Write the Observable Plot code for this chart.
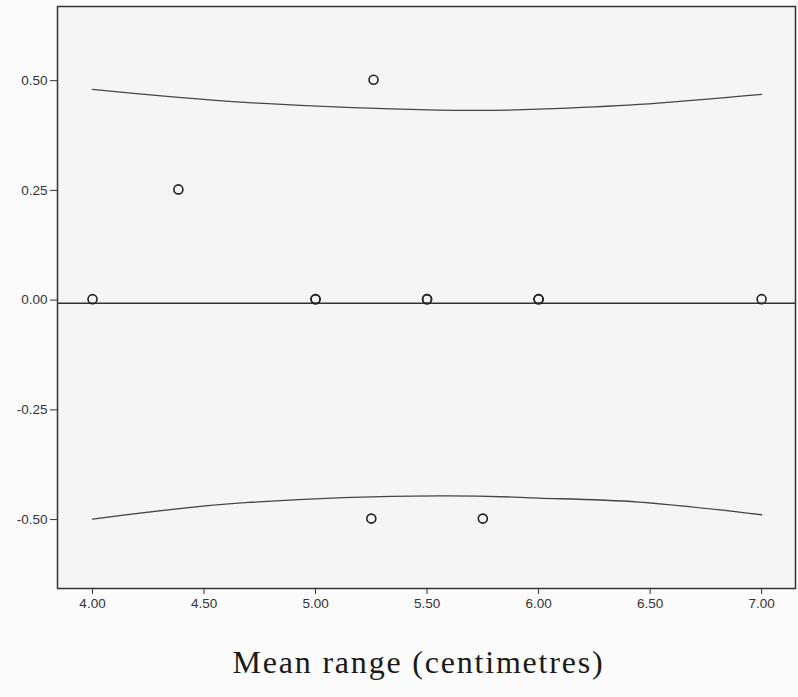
<!DOCTYPE html>
<html>
<head>
<meta charset="utf-8">
<script src="https://cdn.jsdelivr.net/npm/d3@7"></script>
<script src="https://cdn.jsdelivr.net/npm/@observablehq/plot@0.6"></script>
<style>
  html, body { margin: 0; padding: 0; background: #fbfbfb; }
  #chart svg { display: block; }
</style>
</head>
<body>
<div id="chart"></div>
<script>
// Observed points (mean range, difference)
const pointX = [4.00, 4.385, 5.00, 5.00, 5.26, 5.50, 5.50, 6.00, 6.00, 7.00, 5.25, 5.75];
const pointY = [0.00, 0.25, 0.00, 0.00, 0.50, 0.00, 0.00, 0.00, 0.00, 0.00, -0.50, -0.50];

// Mean difference line
const meanDiff = -0.007;

// Upper limit curve
const upperX = [4.00, 4.70, 5.55, 6.00, 6.45, 7.00];
const upperY = [0.480, 0.450, 0.433, 0.435, 0.446, 0.469];

// Lower limit curve
const lowerX = [4.00, 4.70, 5.55, 6.00, 6.45, 7.00];
const lowerY = [-0.499, -0.461, -0.446, -0.451, -0.460, -0.489];

const xTicks = [4.0, 4.5, 5.0, 5.5, 6.0, 6.5, 7.0];
const yTicks = [-0.5, -0.25, 0, 0.25, 0.5];
const xTitle = "Mean range (centimetres)";

const points = pointX.map((x, i) => ({x, y: pointY[i]}));
const upper = upperX.map((x, i) => ({x, y: upperY[i]}));
const lower = lowerX.map((x, i) => ({x, y: lowerY[i]}));

const fmt = d => d.toFixed(2);

const chart = Plot.plot({
  width: 798,
  height: 697,
  marginLeft: 57,
  marginRight: 3,
  marginTop: 6,
  marginBottom: 109,
  style: {background: "#fbfbfb", fontFamily: "Liberation Sans, Arial, sans-serif"},
  x: {domain: [3.843, 7.152], label: null},
  y: {domain: [-0.657, 0.669], label: null},
  marks: [
    Plot.frame({fill: "#f5f5f5", stroke: "none"}),
    Plot.ruleY([meanDiff], {stroke: "#333", strokeWidth: 1.4}),
    Plot.line(upper, {x: "x", y: "y", curve: "natural", stroke: "#444", strokeWidth: 1.3}),
    Plot.line(lower, {x: "x", y: "y", curve: "natural", stroke: "#444", strokeWidth: 1.3}),
    Plot.dot(points, {x: "x", y: "y", r: 4.5, stroke: "#222", strokeWidth: 1.6, fill: "none", dy: -1}),
    Plot.frame({stroke: "#333", strokeWidth: 1.5}),
    Plot.axisX(xTicks, {tickFormat: fmt, tickSize: 6, tickPadding: 4, fontSize: 13.5, fill: "#333", stroke: "#333", label: null}),
    Plot.axisY(yTicks, {tickFormat: fmt, tickSize: 7, tickPadding: 3, fontSize: 13.5, fill: "#333", stroke: "#333", label: null}),
    Plot.text([xTitle], {frameAnchor: "bottom", dy: 84, fontSize: 32, fontFamily: "Liberation Serif, Times New Roman, serif", fill: "#1a1a1a", dx: -8, className: "xtitle"})
  ]
});
chart.querySelectorAll(".xtitle text").forEach(t => t.setAttribute("letter-spacing", "1.8"));
document.getElementById("chart").appendChild(chart);
</script>
</body>
</html>
